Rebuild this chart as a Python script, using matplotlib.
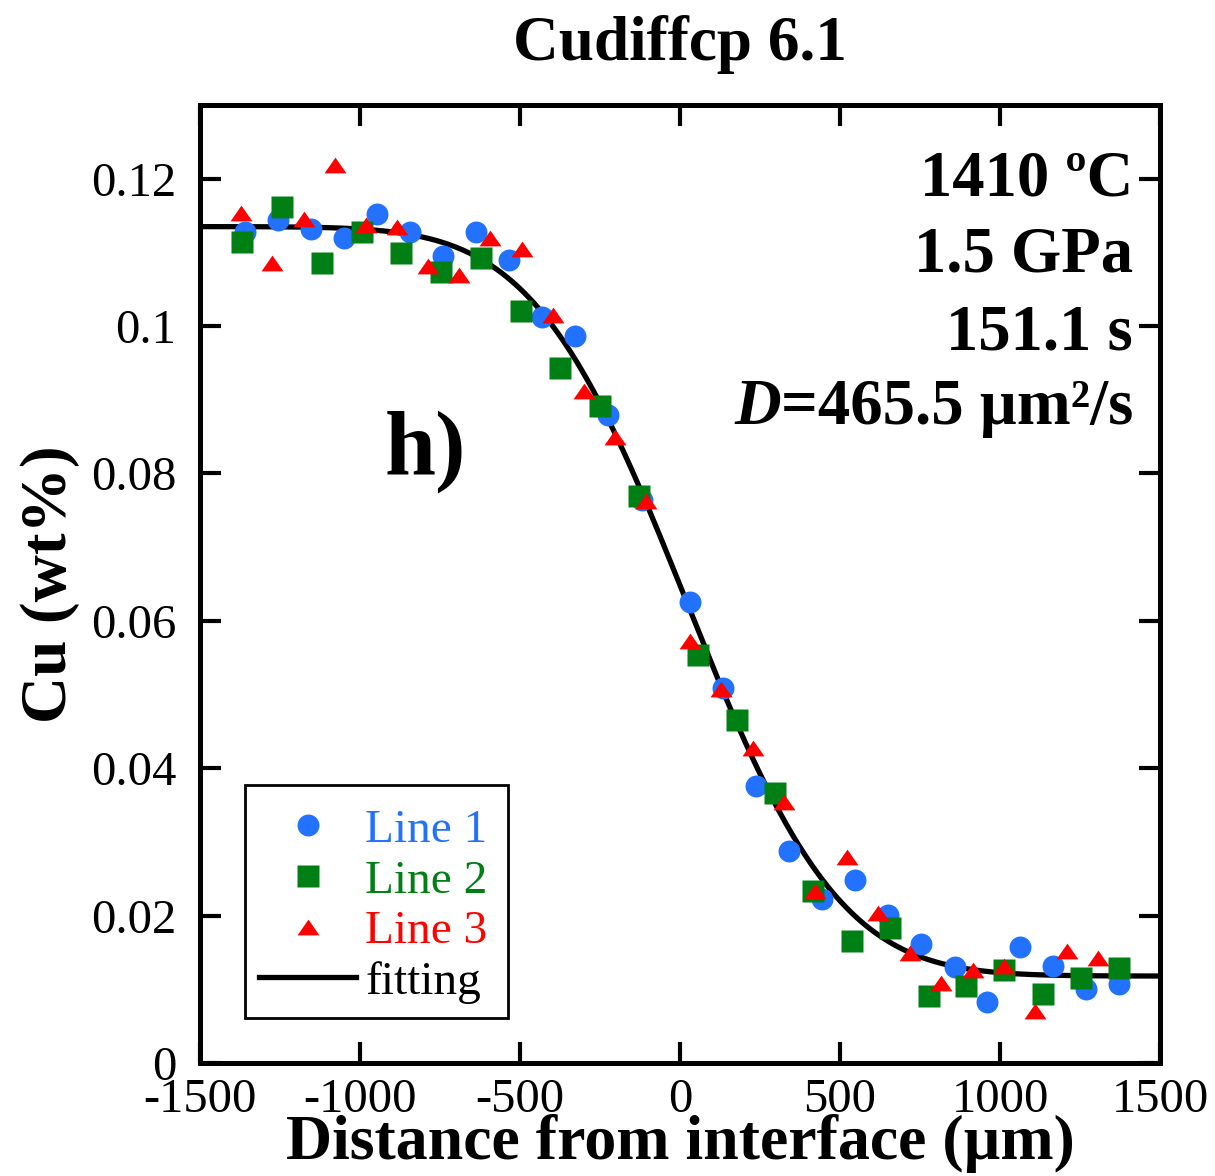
import math
import numpy as np
import matplotlib
matplotlib.use("Agg")
import matplotlib.pyplot as plt
from matplotlib.path import Path
from matplotlib.patches import Rectangle

# ---------------- data ----------------
line1_x = [-1360, -1256, -1152, -1050, -946, -844, -740, -638, -534, -430, -329, -225, -120,
           31, 133, 237, 340, 444, 547, 651, 754, 858, 960, 1062, 1167, 1268, 1372]
line1_y = [0.1128, 0.1144, 0.1132, 0.1120, 0.1152, 0.1128, 0.1095, 0.1128, 0.1090, 0.1012, 0.0986, 0.0880, 0.0764,
           0.0625, 0.0509, 0.0376, 0.0288, 0.0222, 0.0248, 0.0201, 0.0162, 0.0130, 0.0083, 0.0158, 0.0132, 0.0100, 0.0107]

line2_x = [-1368, -1245, -1119, -995, -873, -748, -623, -498, -374, -250, -127,
           56, 177, 297, 416, 536, 655, 777, 894, 1013, 1133, 1253, 1373]
line2_y = [0.1114, 0.1162, 0.1085, 0.1127, 0.1099, 0.1073, 0.1092, 0.1021, 0.0943, 0.0892, 0.0770,
           0.0554, 0.0465, 0.0366, 0.0234, 0.0165, 0.0183, 0.0091, 0.0104, 0.0126, 0.0093, 0.0115, 0.0129]

line3_x = [-1371, -1274, -1176, -1079, -982, -884, -788, -691, -593, -495, -397, -299, -203, -106,
           30, 128, 227, 325, 421, 521, 620, 718, 817, 915, 1012, 1110, 1208, 1307]
line3_y = [0.1154, 0.1086, 0.1145, 0.1219, 0.1137, 0.1134, 0.1082, 0.1069, 0.1119, 0.1105, 0.1015, 0.0912, 0.0850, 0.0763,
           0.0573, 0.0507, 0.0428, 0.0354, 0.0233, 0.0280, 0.0203, 0.0149, 0.0109, 0.0126, 0.0131, 0.0071, 0.0152, 0.0142]

# fitting parameters (erfc diffusion profile)
fit_c_left = 0.1135
fit_c_right = 0.0118
fit_D = 465.5      # um^2/s
fit_t = 151.1      # s
fit_x0 = 20.0      # um

x_ticks = [-1500, -1000, -500, 0, 500, 1000, 1500]
y_ticks = [0, 0.02, 0.04, 0.06, 0.08, 0.1, 0.12]
y_tick_labels = ["0", "0.02", "0.04", "0.06", "0.08", "0.1", "0.12"]

# ---------------- style ----------------
plt.rcParams['font.family'] = ['Liberation Serif', 'DejaVu Serif']
plt.rcParams['axes.unicode_minus'] = False

c_blue = '#2272FF'
c_green = '#007F14'
c_red = '#FF0000'

fig = plt.figure(figsize=(12.15, 11.76), dpi=100)
ax = fig.add_axes([200/1215, 1 - 1063/1176, 960/1215, 958/1176])

tri = Path([(-1, -0.72), (1, -0.72), (0, 0.72), (-1, -0.72)],
           [Path.MOVETO, Path.LINETO, Path.LINETO, Path.CLOSEPOLY])

ms = 15.8
ax.plot(line1_x, line1_y, 'o', color=c_blue, ms=ms, mec='none', label='Line 1', zorder=3)
ax.plot(line2_x, line2_y, 's', color=c_green, ms=ms, mec='none', label='Line 2', zorder=3)
ax.plot(line3_x, line3_y, marker=tri, ls='none', color=c_red, ms=ms, mec='none', label='Line 3', zorder=3)

xf = np.linspace(-1500, 1500, 601)
erfv = np.vectorize(math.erf)
w = 2 * math.sqrt(fit_D * fit_t)
yf = fit_c_right + (fit_c_left - fit_c_right) / 2 * (1 - erfv((xf - fit_x0) / w))
ax.plot(xf, yf, '-', color='black', lw=3.8, label='fitting', zorder=2)

ax.set_xlim(-1500, 1500)
ax.set_ylim(0, 0.13)
ax.set_xticks(x_ticks)
ax.set_xticklabels([str(v) for v in x_ticks])
ax.set_yticks(y_ticks)
ax.set_yticklabels(y_tick_labels)
ax.minorticks_off()

for s in ax.spines.values():
    s.set_linewidth(3.6)
ax.tick_params(axis='both', which='major', direction='in', length=15, width=3,
               top=True, right=True, labelsize=35)
ax.tick_params(axis='y', pad=17)
ax.tick_params(axis='x', pad=11)

ax.set_xlabel('Distance from interface (µm)', fontsize=46, fontweight='bold', labelpad=-6)
ax.set_ylabel('Cu (wt%)', fontsize=47, fontweight='bold', labelpad=8)

fig.text(680/1215, 1 - 60/1176, 'Cudiffcp 6.1', fontsize=45.5, fontweight='bold',
         ha='center', va='baseline')

xr = (1133 - 200) / 960
fs_ann = 46.5
ax.text(xr, (1063 - 195) / 958, '1410 ºC', transform=ax.transAxes, ha='right', va='baseline',
        fontsize=fs_ann, fontweight='bold')
ax.text(xr, (1063 - 272) / 958, '1.5 GPa', transform=ax.transAxes, ha='right', va='baseline',
        fontsize=fs_ann, fontweight='bold')
ax.text(xr, (1063 - 349) / 958, '151.1 s', transform=ax.transAxes, ha='right', va='baseline',
        fontsize=fs_ann, fontweight='bold')
td = ax.text(xr, (1063 - 424) / 958, '=465.5 µm²/s', transform=ax.transAxes, ha='right', va='baseline',
             fontsize=fs_ann, fontweight='bold')

ax.text((385 - 200) / 960, (1063 - 474) / 958, 'h)', transform=ax.transAxes, ha='left', va='baseline',
        fontsize=66, fontweight='bold')

leg = ax.legend(loc='lower left', bbox_to_anchor=(45/960, 45/958), borderaxespad=0,
                fontsize=34, frameon=False,
                handlelength=2.05, handletextpad=0.2, labelspacing=0.16, borderpad=0.3,
                numpoints=1)
for txt, col in zip(leg.get_texts(), [c_blue, c_green, c_red, 'black']):
    txt.set_color(col)
ax.add_patch(Rectangle((45/960, 45/958), 263/960, 233/958, transform=ax.transAxes,
                       fill=False, edgecolor='black', linewidth=2.0, zorder=4))

fig.canvas.draw()
bb = td.get_window_extent()
ax.text(bb.x0, bb.y0, 'D', transform=None, ha='right', va='bottom',
        fontsize=fs_ann, fontweight='bold', style='italic')
fig.savefig('out.png', dpi=100)
